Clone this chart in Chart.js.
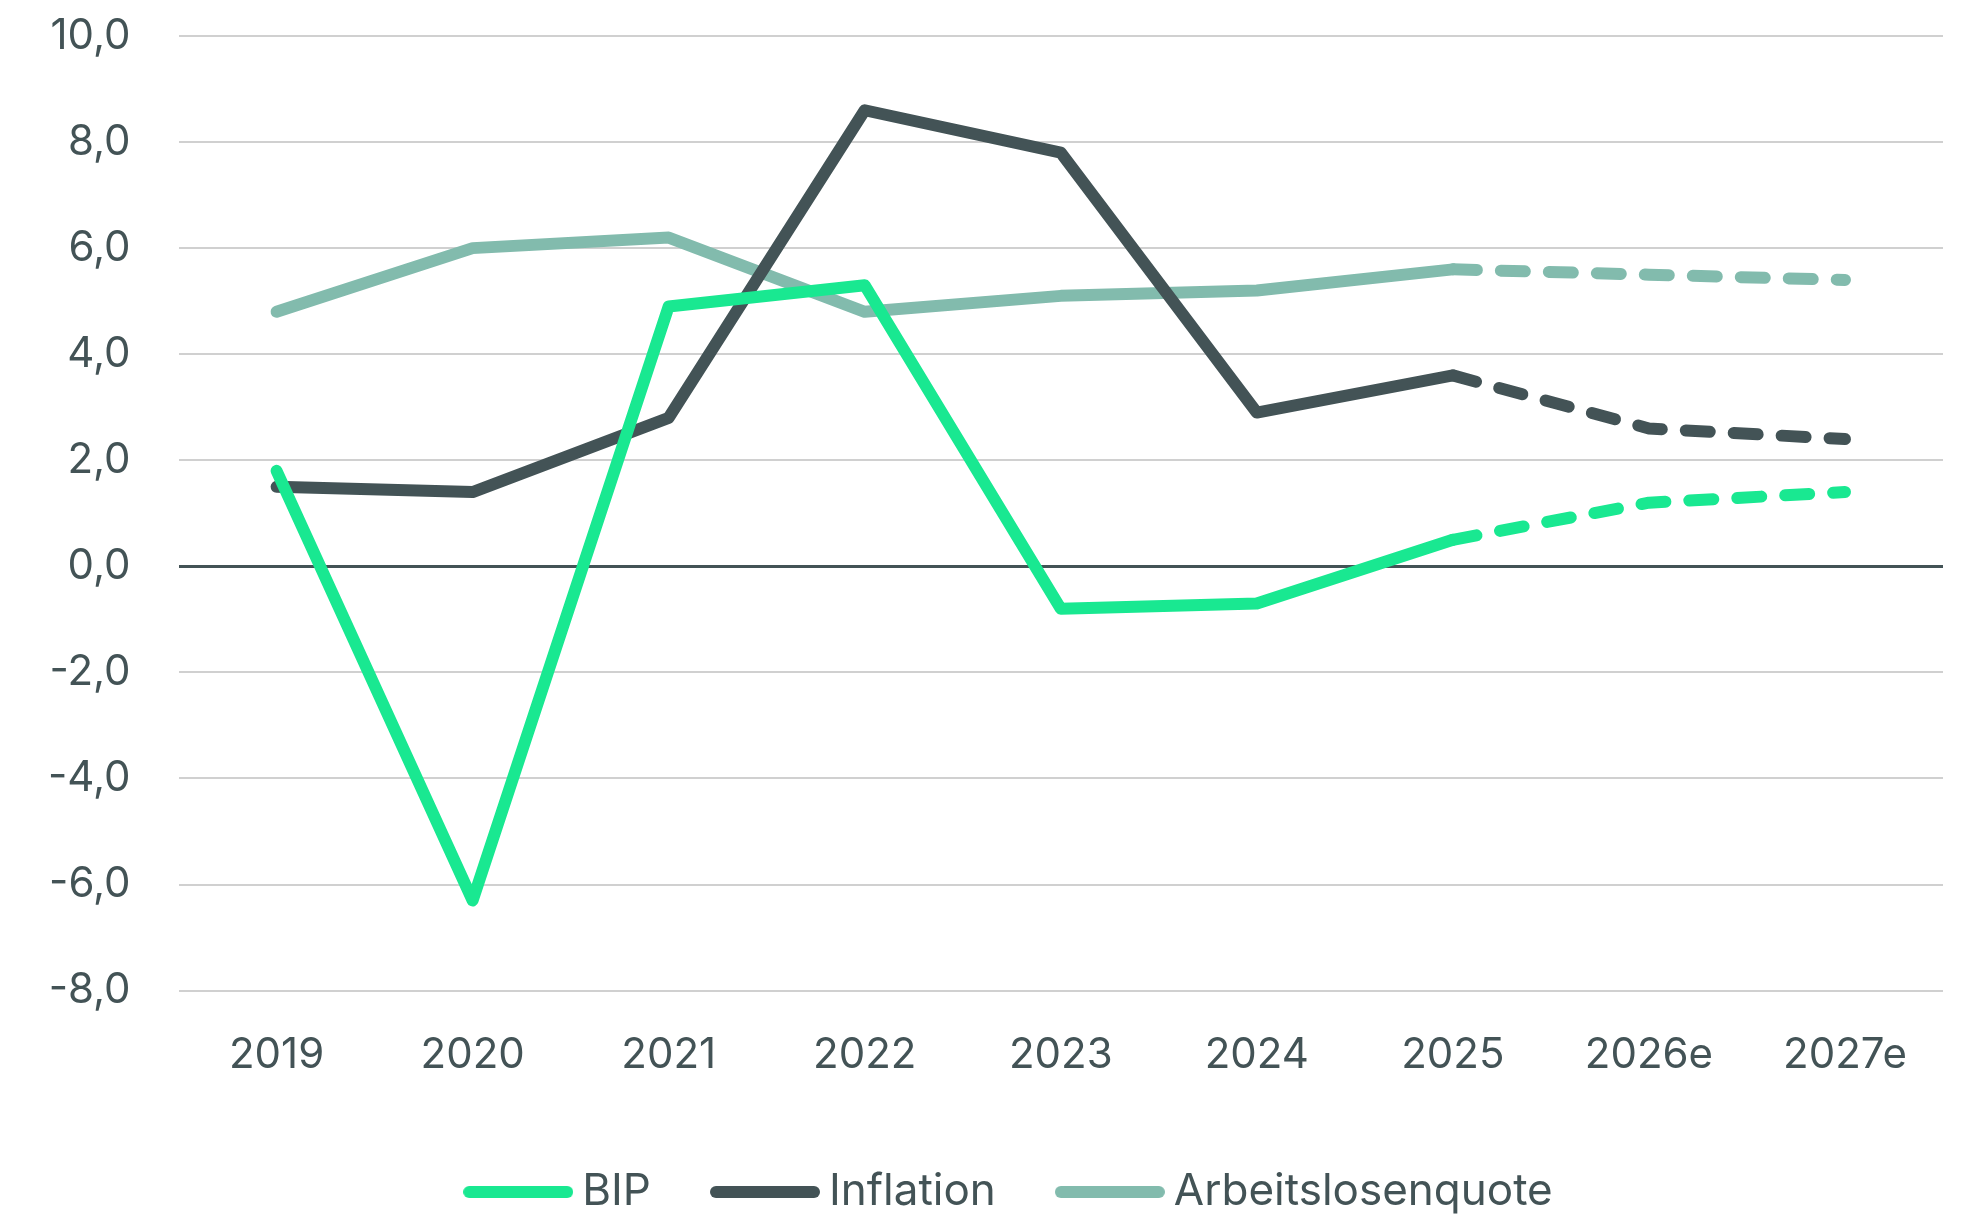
<!DOCTYPE html>
<html>
<head>
<meta charset="utf-8">
<script src="https://cdn.jsdelivr.net/npm/chart.js@4.4.1/dist/chart.umd.min.js"></script>
<style>
  html, body { margin: 0; padding: 0; background: #fff; overflow: hidden; }
  #wrap { width: 1972px; height: 1214px; position: relative; }
</style>
</head>
<body>
<div id="wrap"><canvas id="chart"></canvas></div>
<script>
// ── Data ────────────────────────────────────────────────────────────────
const years = ['2019', '2020', '2021', '2022', '2023', '2024', '2025', '2026e', '2027e'];
const bip = [1.8, -6.3, 4.9, 5.3, -0.8, -0.7, 0.5, 1.2, 1.4];
const inflation = [1.5, 1.4, 2.8, 8.6, 7.8, 2.9, 3.6, 2.6, 2.4];
const arbeitslosenquote = [4.8, 6.0, 6.2, 4.8, 5.1, 5.2, 5.6, 5.5, 5.4];
const forecastFrom = 6; // dashed from 2025 onwards

const ink = '#435356';
const font = "Inter, 'Open Sans', sans-serif";
const lineW = 12;

const dashed = ctx => ctx.p0DataIndex >= forecastFrom ? [24, 24] : undefined;

// legend swatch: a short rounded line, wider than the legend box so the text sits close
function swatch(color) {
    const c = document.createElement('canvas');
    c.width = 110; c.height = 14;
    const g = c.getContext('2d');
    g.strokeStyle = color; g.lineWidth = lineW; g.lineCap = 'round';
    g.beginPath(); g.moveTo(lineW / 2, 7); g.lineTo(110 - lineW / 2, 7); g.stroke();
    return c;
}

const line = (label, data, color) => ({
    label, data,
    borderColor: color, backgroundColor: color,
    borderWidth: lineW, borderCapStyle: 'round', borderJoinStyle: 'round',
    pointRadius: 0, pointStyle: swatch(color), tension: 0, fill: false,
    segment: { borderDash: dashed }
});

// nudge the legend to the right, as in the original
const legendShift = {
    id: 'legendShift',
    afterLayout(chart) { chart.legend.left += 43; chart.legend.right += 43; }
};

new Chart(document.getElementById('chart'), {
    type: 'line',
    data: {
        labels: years,
        datasets: [
            line('BIP', bip, '#19e891'),
            line('Inflation', inflation, ink),
            line('Arbeitslosenquote', arbeitslosenquote, '#82bbad')
        ]
    },
    plugins: [legendShift],
    options: {
        responsive: true, maintainAspectRatio: false, animation: false,
        layout: { padding: { top: 36, right: 29, left: 0, bottom: -10 } },
        plugins: {
            tooltip: { enabled: false },
            legend: {
                position: 'bottom',
                labels: {
                    color: ink, font: { family: font, size: 44 },
                    usePointStyle: true, pointStyleWidth: 84,
                    padding: 72
                }
            }
        },
        scales: {
            x: {
                offset: true,
                grid: { display: false, drawTicks: false },
                border: { display: false },
                ticks: { color: ink, font: { family: font, size: 42 }, padding: 40 },
                afterFit: s => { s.height -= 23; }
            },
            y: {
                min: -8, max: 10,
                border: { display: false },
                grid: {
                    drawTicks: false,
                    color: c => c.tick.value === 0 ? ink : '#d0d0d0',
                    lineWidth: c => c.tick.value === 0 ? 3 : 2
                },
                ticks: {
                    stepSize: 2, color: ink, padding: 48,
                    font: { family: font, size: 42 },
                    callback: v => Number(v).toFixed(1).replace('.', ',')
                },
                afterFit: s => { s.paddingTop = 20; s.paddingBottom = 20; }
            }
        }
    }
});
</script>
</body>
</html>
